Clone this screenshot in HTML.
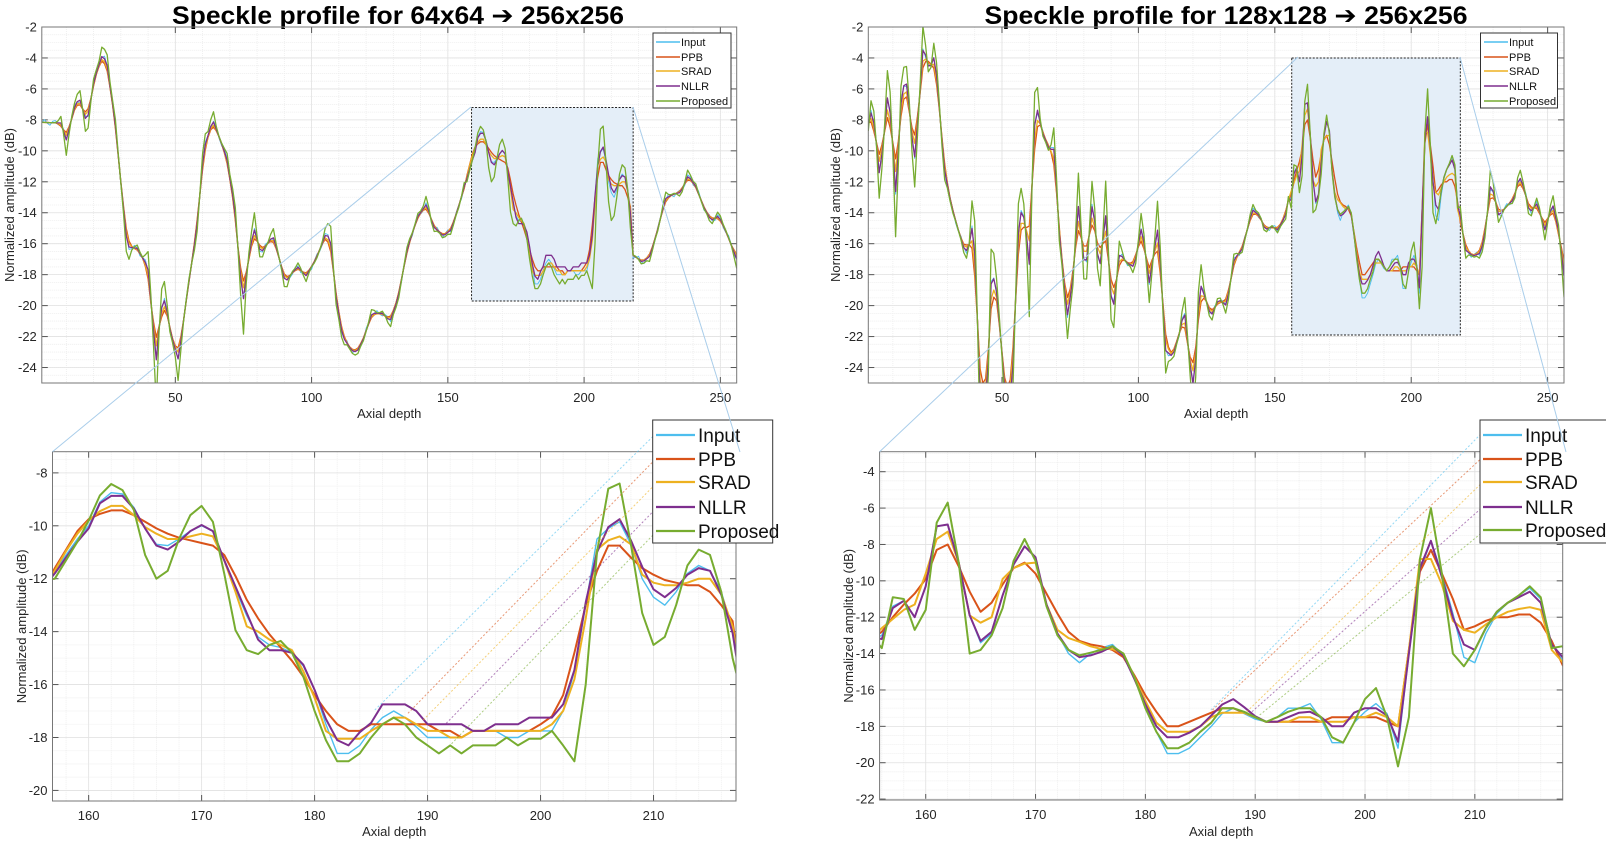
<!DOCTYPE html>
<html><head><meta charset="utf-8"><style>
html,body{margin:0;padding:0;background:#fff;}
svg{display:block;}
text{font-family:"Liberation Sans",sans-serif;}
</style></head><body>
<svg id="s" width="1606" height="841" viewBox="0 0 1606 841" xmlns="http://www.w3.org/2000/svg"></svg>
<script>
const S=document.getElementById('s');let H='';
const C={Input:'#4DBEEE',PPB:'#D95319',SRAD:'#EDB120',NLLR:'#7E2F8E',Proposed:'#77AC30'};
const NAMES=['Input','PPB','SRAD','NLLR','Proposed'];
function interp(kp,x){for(let i=0;i<kp.length-1;i++){if(x>=kp[i][0]&&x<=kp[i+1][0]){const t=(x-kp[i][0])/(kp[i+1][0]-kp[i][0]);return kp[i][1]+t*(kp[i+1][1]-kp[i][1]);}}return x<kp[0][0]?kp[0][1]:kp[kp.length-1][1];}
function smooth(a,w){const r=[];const h=(w-1)/2;for(let i=0;i<a.length;i++){let s=0,n=0;for(let j=i-h;j<=i+h;j++){if(j>=0&&j<a.length){s+=a[j];n++;}}r.push(s/n);}return r;}
function build(kp,start,D,pf){
 const xs=[],base=[];for(let i=1;i<=256;i++){xs.push(i);base.push(interp(kp,i));}
 const s5=smooth(base,5);
 const out={};
 out.NLLR=base.slice();
 out.Input=base.map((v,i)=>v+0.18*Math.sin(i*1.7));
 out.SRAD=base.map((v,i)=>0.6*v+0.4*s5[i]);
 out.PPB=base.map((v,i)=>0.35*v+0.65*s5[i]);
 out.Proposed=base.map((v,i)=>v+pf*(v-s5[i]));
 for(const n of NAMES){const d=D[n];for(let k=0;k<d.length;k++){out[n][start+k-1]=d[k];}}
 return {xs,out};
}
function plot(p){
 const {L,R,T,B,xmin,xmax,ymin,ymax}=p;
 const X=v=>L+(v-xmin)/(xmax-xmin)*(R-L);
 const Y=v=>T+(ymax-v)/(ymax-ymin)*(B-T);
 for(let v=Math.ceil(xmin/p.xm)*p.xm;v<=xmax;v+=p.xm){H+=`<line x1="${X(v)}" y1="${T}" x2="${X(v)}" y2="${B}" stroke="#ececec" stroke-width="0.8" stroke-dasharray="1,1"/>`;}
 for(let v=Math.ceil(ymin/p.ym)*p.ym;v<=ymax;v+=p.ym){H+=`<line x1="${L}" y1="${Y(v)}" x2="${R}" y2="${Y(v)}" stroke="#ececec" stroke-width="0.8" stroke-dasharray="1,1"/>`;}
 for(const v of p.xt){const x=X(v);H+=`<line x1="${x}" y1="${T}" x2="${x}" y2="${B}" stroke="#e2e2e2" stroke-width="0.8"/>`;
  H+=`<line x1="${x}" y1="${B}" x2="${x}" y2="${B-6}" stroke="#555"/><line x1="${x}" y1="${T}" x2="${x}" y2="${T+6}" stroke="#555"/>`;
  H+=`<text x="${x}" y="${B+19}" font-size="13" fill="#262626" text-anchor="middle">${v}</text>`;}
 for(const v of p.yt){const y=Y(v);H+=`<line x1="${L}" y1="${y}" x2="${R}" y2="${y}" stroke="#e2e2e2" stroke-width="0.8"/>`;
  H+=`<line x1="${L}" y1="${y}" x2="${L+6}" y2="${y}" stroke="#555"/><line x1="${R}" y1="${y}" x2="${R-6}" y2="${y}" stroke="#555"/>`;
  H+=`<text x="${L-5}" y="${y+4.5}" font-size="13" fill="#262626" text-anchor="end">${v}</text>`;}
 if(p.box){const b=p.box;H+=`<rect x="${X(b[0])}" y="${Y(b[3])}" width="${X(b[1])-X(b[0])}" height="${Y(b[2])-Y(b[3])}" fill="#e4eef8" stroke="#222" stroke-width="1" stroke-dasharray="2,1.5"/>`;}
 H+=`<clipPath id="${p.id}"><rect x="${L}" y="${T}" width="${R-L}" height="${B-T}"/></clipPath><g clip-path="url(#${p.id})">`;
 for(const n of NAMES){const pts=[];for(let i=0;i<p.xs.length;i++){pts.push(X(p.xs[i]).toFixed(1)+','+Y(p.ys[n][i]).toFixed(1));}
  H+=`<polyline points="${pts.join(' ')}" fill="none" stroke="${C[n]}" stroke-width="${n==='Input'?p.lw*0.7:p.lw}" stroke-linejoin="round"/>`;}
 H+=`</g><rect x="${L}" y="${T}" width="${R-L}" height="${B-T}" fill="none" stroke="#777" stroke-width="1"/>`;
 H+=`<text x="${(L+R)/2}" y="${p.xlabY}" font-size="13" fill="#262626" text-anchor="middle">Axial depth</text>`;
 H+=`<text transform="translate(${p.ylabX},${(T+B)/2}) rotate(-90)" font-size="13" fill="#262626" text-anchor="middle">Normalized amplitude (dB)</text>`;
}
function legend(x,y,w,h,ys,l1,l2,tx,fs,lw){
 H+=`<rect x="${x}" y="${y}" width="${w}" height="${h}" fill="#fff" stroke="#333" stroke-width="1"/>`;
 NAMES.forEach((n,i)=>{H+=`<line x1="${l1}" y1="${ys[i]}" x2="${l2}" y2="${ys[i]}" stroke="${C[n]}" stroke-width="${lw}"/><text x="${tx}" y="${ys[i]+fs*0.36}" font-size="${fs}" fill="#111">${n}</text>`;});
}
const DL={
NLLR:[-11.8,-11.2,-10.6,-10.1,-9.15,-8.87,-8.87,-9.35,-10.1,-10.75,-10.9,-10.6,-10.2,-9.97,-10.2,-11.3,-12.3,-13.3,-14.3,-14.7,-14.7,-14.8,-15.25,-16.2,-17.3,-18.1,-18.3,-17.8,-17.45,-16.75,-16.75,-16.75,-17,-17.5,-17.5,-17.5,-17.5,-17.75,-17.75,-17.5,-17.5,-17.5,-17.25,-17.25,-17.25,-16.75,-15.45,-12.9,-11.0,-10.05,-9.75,-10.55,-11.55,-12.4,-12.7,-12.35,-11.85,-11.6,-11.7,-12.6,-14.05],
Input:[-11.7,-11.1,-10.5,-10.0,-9.1,-8.75,-8.8,-9.3,-10.1,-10.7,-10.75,-10.5,-10.2,-10.0,-10.2,-11.3,-12.4,-13.4,-14.2,-14.5,-14.6,-14.8,-15.3,-16.2,-17.5,-18.6,-18.6,-18.3,-17.7,-17.25,-17.0,-17.25,-17.6,-18.0,-18.0,-18.0,-18.0,-17.75,-17.75,-17.75,-18.0,-18.0,-17.75,-17.75,-17.75,-17.0,-15.5,-13.0,-10.5,-10.1,-9.85,-10.7,-12.0,-12.7,-13.0,-12.5,-11.8,-11.5,-11.7,-12.5,-13.9],
PPB:[-11.6,-10.9,-10.2,-9.75,-9.55,-9.42,-9.42,-9.6,-9.85,-10.1,-10.3,-10.45,-10.55,-10.65,-10.75,-11.1,-11.9,-12.8,-13.5,-14.1,-14.6,-15.1,-15.7,-16.4,-17.0,-17.5,-17.75,-17.75,-17.5,-17.5,-17.5,-17.5,-17.5,-17.5,-17.75,-17.75,-18.0,-17.75,-17.75,-17.75,-17.75,-17.75,-17.75,-17.5,-17.2,-16.4,-14.8,-13.0,-11.7,-10.75,-10.75,-11.2,-11.6,-11.85,-12.05,-12.15,-12.25,-12.25,-12.5,-13.0,-13.6],
SRAD:[-11.7,-10.95,-10.3,-9.8,-9.45,-9.25,-9.25,-9.6,-10.05,-10.3,-10.5,-10.5,-10.4,-10.3,-10.4,-11.3,-12.5,-13.8,-14.0,-14.3,-14.5,-14.7,-15.5,-16.5,-17.75,-18.05,-18.05,-18.05,-17.75,-17.5,-17.25,-17.25,-17.5,-17.75,-17.75,-18.0,-18.0,-17.75,-17.75,-17.75,-17.75,-17.75,-17.75,-17.75,-17.5,-17.0,-15.8,-13.5,-10.9,-10.55,-10.4,-10.7,-11.85,-12.15,-12.25,-12.25,-12.15,-12.0,-12.0,-12.6,-13.8],
Proposed:[-12.0,-11.3,-10.6,-9.8,-8.85,-8.42,-8.65,-9.4,-11.1,-12.0,-11.7,-10.5,-9.6,-9.25,-9.85,-11.8,-13.95,-14.7,-14.85,-14.5,-14.35,-14.8,-15.7,-17.0,-18.1,-18.9,-18.9,-18.6,-18.0,-17.5,-17.25,-17.5,-18.0,-18.3,-18.6,-18.3,-18.6,-18.3,-18.3,-18.3,-18.0,-18.3,-18.05,-18.05,-17.75,-18.3,-18.9,-16.0,-11.0,-8.6,-8.4,-10.7,-13.3,-14.5,-14.2,-13.0,-11.5,-10.9,-11.1,-12.5,-15.0]};
const DR={
NLLR:[-13.2,-11.5,-11.1,-12.0,-10.3,-7.0,-6.9,-9.0,-11.9,-13.3,-12.8,-10.8,-9.1,-8.1,-8.7,-11.3,-12.9,-13.8,-14.2,-14.1,-13.9,-13.6,-14.1,-15.4,-16.8,-18.0,-18.6,-18.6,-18.35,-18.0,-17.4,-16.8,-16.5,-16.95,-17.45,-17.75,-17.75,-17.5,-17.25,-17.2,-17.5,-18.0,-18.0,-17.25,-17.0,-17.0,-17.4,-18.85,-14.0,-9.3,-7.8,-9.8,-12.0,-13.5,-13.8,-12.6,-11.7,-11.2,-10.9,-10.6,-11.2,-13.5],
Input:[-13.0,-11.4,-11.1,-12.0,-10.3,-7.0,-6.9,-9.0,-11.9,-13.4,-12.9,-10.8,-9.1,-8.1,-8.7,-11.3,-12.9,-14.0,-14.5,-14.0,-13.7,-13.5,-14.1,-15.4,-16.9,-18.3,-19.5,-19.5,-19.2,-18.6,-18.0,-17.3,-17.0,-17.3,-17.6,-17.75,-17.5,-17.0,-17.0,-16.75,-17.6,-18.9,-18.9,-17.8,-17.2,-16.75,-17.3,-19.2,-14.0,-9.5,-7.8,-9.6,-11.8,-14.2,-14.5,-12.9,-11.8,-11.2,-10.8,-10.4,-11.0,-13.5],
PPB:[-12.8,-12.0,-11.3,-10.7,-9.9,-8.3,-8.0,-9.2,-10.6,-11.7,-11.2,-10.2,-9.3,-9.0,-9.6,-10.7,-11.8,-12.8,-13.3,-13.5,-13.6,-13.8,-14.2,-15.2,-16.3,-17.2,-18.0,-18.0,-17.75,-17.5,-17.25,-17.0,-17.0,-17.25,-17.5,-17.75,-17.75,-17.75,-17.75,-17.75,-17.75,-17.5,-17.5,-17.5,-17.5,-17.5,-17.75,-18.0,-13.8,-9.5,-8.3,-9.6,-11.0,-12.7,-12.5,-12.2,-12.0,-12.0,-11.85,-11.85,-12.3,-13.3],
SRAD:[-12.6,-12.1,-11.6,-11.3,-9.6,-7.7,-7.3,-9.0,-11.9,-12.3,-12.0,-9.9,-9.3,-9.05,-9.0,-11.3,-12.7,-13.15,-13.35,-13.6,-13.75,-13.75,-14.0,-15.3,-16.6,-17.8,-18.3,-18.3,-18.3,-18.0,-17.5,-17.25,-17.25,-17.25,-17.5,-17.75,-17.75,-17.75,-17.5,-17.5,-17.75,-17.75,-17.75,-17.5,-17.5,-17.25,-17.5,-18.0,-13.8,-8.8,-8.8,-10.2,-12.2,-12.7,-12.85,-12.4,-12.0,-11.7,-11.55,-11.45,-11.6,-13.8],
Proposed:[-13.7,-10.9,-11.0,-12.7,-11.6,-6.8,-5.7,-9.0,-14.0,-13.8,-13.0,-11.5,-8.9,-7.7,-8.9,-11.4,-13.0,-13.8,-14.1,-13.95,-13.8,-13.6,-14.0,-15.3,-17.0,-18.3,-19.2,-19.2,-18.9,-18.3,-17.8,-17.0,-17.0,-17.2,-17.5,-17.75,-17.5,-17.2,-17.0,-17.0,-17.5,-18.6,-18.9,-17.8,-16.5,-15.9,-17.5,-20.2,-17.5,-8.8,-6.0,-9.6,-14.0,-14.7,-13.8,-12.6,-11.7,-11.2,-10.8,-10.3,-10.9,-13.7]};
const KL=[[1,-8.16],[8,-8.2],[10,-9.3],[12.8,-7.3],[14.7,-6.55],[17.5,-8.2],[20.3,-5.35],[23.3,-3.75],[25,-4.5],[27.8,-8],[30.6,-13.1],[32.4,-16.2],[36,-16.3],[39.9,-17.5],[43,-23.5],[44.6,-20.3],[46.2,-19.6],[48.3,-21.8],[51.1,-23.5],[54.9,-18.5],[57.7,-15.3],[60.5,-9.9],[63.7,-8.0],[66.5,-9.3],[68.9,-10.5],[71.7,-13.6],[73.6,-17.5],[74.9,-19.7],[76.4,-17.5],[78.8,-15.0],[81.4,-16.6],[85.8,-15.5],[87.6,-16.6],[90.4,-18.5],[92.7,-17.9],[95.1,-17.5],[97.9,-18.1],[101.6,-17.0],[105.4,-15.3],[106.9,-15.8],[109.1,-19.6],[111.4,-22],[114.7,-22.9],[116.6,-23.0],[118.9,-22.2],[122.2,-20.5],[126,-20.5],[128.8,-21],[131.6,-19.6],[135.3,-16.2],[139.1,-14.2],[142.2,-13.45],[144.7,-14.9],[148.4,-15.5],[151.2,-15.1],[154,-13.6],[156.8,-11.8],[218.6,-16.8],[221.4,-17.2],[224.2,-16.8],[227,-15.1],[229.8,-13.1],[232.6,-12.8],[235.4,-12.7],[238.2,-11.6],[241,-12.3],[243.8,-13.6],[246.6,-14.5],[249.4,-14.2],[252.3,-15.3],[256,-17.0]];
const KR=[[1,-8.4],[2.3,-7.3],[3.8,-9.2],[5.1,-11.6],[6.5,-9.5],[8.3,-6.0],[9.9,-9.5],[11.2,-13.2],[12.7,-7.3],[14.6,-5.1],[16.1,-7.3],[17.8,-10.8],[19.6,-7.1],[21.2,-3.0],[22.7,-4.5],[24.2,-4.5],[25.3,-3.8],[26.8,-6.6],[28.7,-11],[31.5,-13.6],[34.3,-15.3],[36.6,-16.6],[38.1,-16],[39.2,-14.8],[40.4,-17.5],[41.9,-26],[44.5,-26],[46,-18.6],[47.5,-18.1],[49.4,-21.8],[51.3,-26],[53.5,-26],[56,-15.3],[57.3,-13.6],[58.8,-15.1],[60.1,-17.5],[61.6,-8.8],[62.9,-7.3],[64.8,-8.8],[67.3,-9.9],[69.2,-9.9],[71,-15.3],[73.9,-20.7],[75.8,-18.6],[78,-13.6],[80.5,-17.9],[83.3,-13.1],[85.6,-17.9],[88,-14.2],[90.5,-20.7],[93.1,-16.6],[95.5,-17.2],[98.4,-17.5],[101.2,-14.9],[104,-18.5],[107.2,-14.9],[110,-22.9],[112.5,-23.3],[115,-21.8],[116.8,-20.3],[119.1,-24],[120.4,-25.5],[122.5,-18.5],[124.7,-19.6],[126.6,-20.7],[129.4,-19.6],[132.3,-20],[135.1,-17],[137.9,-16.4],[140.2,-14.9],[141.7,-13.8],[144.5,-14.2],[146.4,-15.1],[148.8,-14.9],[151.1,-15.1],[153.9,-14.2],[155.8,-12.3],[218,-14.2],[219.8,-16.4],[222.7,-16.8],[225.5,-16.6],[227.4,-14.9],[229.2,-12],[232.1,-14.2],[234.9,-13.6],[237.7,-13.1],[239.6,-11.6],[241.5,-12.5],[243.4,-14],[246.2,-13.4],[249,-15.1],[251.8,-13.4],[254.2,-15.3],[256,-18.1]];
const TL=build(KL,157,DL,1.3), TR=build(KR,156,DR,0.9);
H+=`<text x="398" y="24" font-size="25" font-weight="bold" text-anchor="middle" textLength="452" lengthAdjust="spacingAndGlyphs" fill="#000">Speckle profile for 64x64 <tspan font-family="DejaVu Sans">➔</tspan> 256x256</text>`;
H+=`<text x="1226" y="24" font-size="25" font-weight="bold" text-anchor="middle" textLength="483" lengthAdjust="spacingAndGlyphs" fill="#000">Speckle profile for 128x128 <tspan font-family="DejaVu Sans">➔</tspan> 256x256</text>`;
plot({id:'c1',L:41.8,R:736.7,T:27,B:383,xmin:1,xmax:256,ymin:-25,ymax:-2,xt:[50,100,150,200,250],yt:[-2,-4,-6,-8,-10,-12,-14,-16,-18,-20,-22,-24],xm:10,ym:0.5,xs:TL.xs,ys:TL.out,lw:1.3,box:[158.7,218,-19.7,-7.2],xlabY:418,ylabX:14});
plot({id:'c2',L:868.3,R:1564,T:27,B:383,xmin:1,xmax:256,ymin:-25,ymax:-2,xt:[50,100,150,200,250],yt:[-2,-4,-6,-8,-10,-12,-14,-16,-18,-20,-22,-24],xm:10,ym:0.5,xs:TR.xs,ys:TR.out,lw:1.3,box:[156.2,218,-21.9,-4.0],xlabY:418,ylabX:840});
legend(653,33,78,75,[42,57,71,86,101],656,680,681,11,1.5);
legend(1480.5,33,77,75,[42,57,71,86,101],1484,1508,1509,11,1.5);
const bl={xs:[],ys:{}};NAMES.forEach(n=>bl.ys[n]=[]);for(let i=156;i<=218;i++){bl.xs.push(i);NAMES.forEach(n=>bl.ys[n].push(TL.out[n][i-1]));}
const br={xs:[],ys:{}};NAMES.forEach(n=>br.ys[n]=[]);for(let i=155;i<=219;i++){br.xs.push(i);NAMES.forEach(n=>br.ys[n].push(TR.out[n][i-1]));}
plot({id:'c3',L:52.5,R:736,T:451.7,B:801,xmin:156.8,xmax:217.3,ymin:-20.4,ymax:-7.2,xt:[160,170,180,190,200,210],yt:[-8,-10,-12,-14,-16,-18,-20],xm:2,ym:0.5,xs:bl.xs,ys:bl.ys,lw:2,xlabY:836,ylabX:26});
plot({id:'c4',L:879.6,R:1562.7,T:451.7,B:800,xmin:155.8,xmax:218,ymin:-22.05,ymax:-2.9,xt:[160,170,180,190,200,210],yt:[-4,-6,-8,-10,-12,-14,-16,-18,-20,-22],xm:2,ym:0.5,xs:br.xs,ys:br.ys,lw:2,xlabY:836,ylabX:853});
const dl=[[735,930,1290,95,'Input'],[800,940,1290,170,'PPB'],[830,960,1290,245,'SRAD'],[875,970,1290,320,'NLLR'],[880,1040,1290,390,'Proposed']];
dl.forEach(d=>{H+=`<line x1="${d[0]/1.961}" y1="${400+d[1]/3}" x2="${d[2]/1.961}" y2="${400+d[3]/3}" stroke="${C[d[4]]}" stroke-opacity="0.6" stroke-width="1" stroke-dasharray="2,2"/>`;});
const dr=[[800,930,1330,95,'Input'],[803,930,1330,170,'PPB'],[870,935,1330,245,'SRAD'],[880,935,1330,320,'NLLR'],[895,945,1330,395,'Proposed']];
dr.forEach(d=>{H+=`<line x1="${800+d[0]/1.947}" y1="${400+d[1]/3}" x2="${800+d[2]/1.947}" y2="${400+d[3]/3}" stroke="${C[d[4]]}" stroke-opacity="0.6" stroke-width="1" stroke-dasharray="2,2"/>`;});
legend(652.7,420,120,123,[435,459,482,507,531],656,695,698,19,2.2);
legend(1480,420,140,123,[435,459,482,507,530],1483,1522,1525,19,2.2);
H+=`<g stroke="#a9cdea" stroke-width="1"><line x1="471" y1="107" x2="52.5" y2="451.7"/><line x1="633" y1="107" x2="740" y2="452"/><line x1="1298" y1="57" x2="879.6" y2="451.7"/><line x1="1460" y1="57" x2="1566" y2="452"/></g>`;
S.innerHTML=H;
</script>
</body></html>
